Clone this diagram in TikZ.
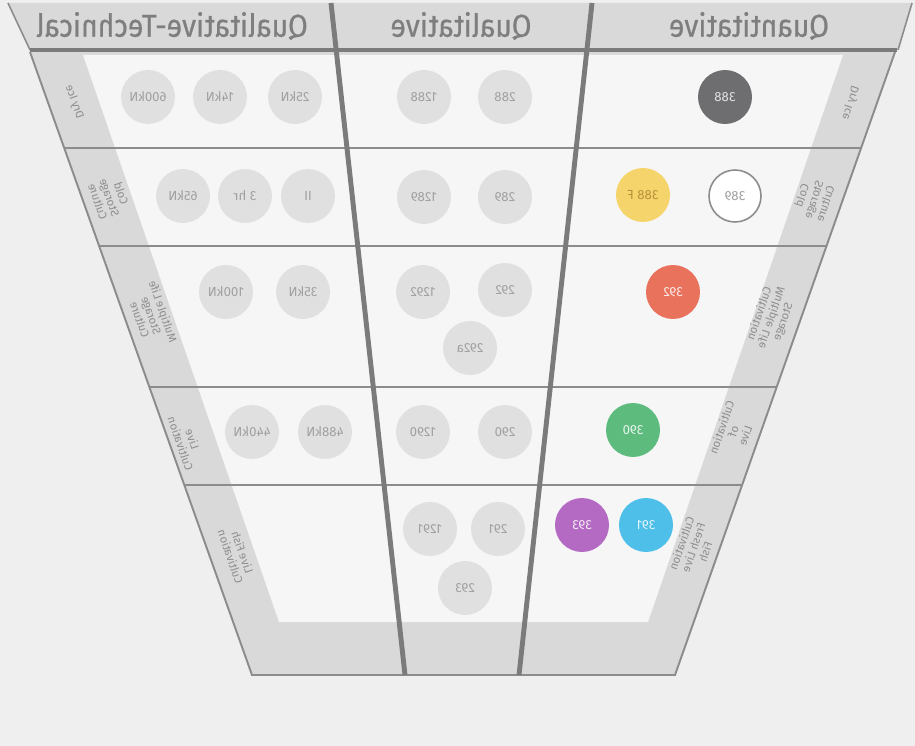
\documentclass[tikz,border=0pt]{standalone}
\usepackage{fontspec}
\setmainfont{Fira Sans}
\newfontfamily\hdfont[FakeBold=0.6]{Fira Sans}
\usepackage{graphicx}
\definecolor{bg}{HTML}{EFEFEF}
\definecolor{hdfill}{HTML}{D9D9D9}
\definecolor{hdtext}{HTML}{7E7E7E}
\definecolor{band}{HTML}{D9D9D9}
\definecolor{inner}{HTML}{F6F6F6}
\definecolor{edge}{HTML}{8C8C8C}
\definecolor{thick}{HTML}{7B7B7B}
\definecolor{cfill}{HTML}{E0E0E0}
\definecolor{ctext}{HTML}{A0A0A0}
\definecolor{bltext}{HTML}{8E8E8E}
\definecolor{cdark}{HTML}{6E6E70}
\definecolor{cyellow}{HTML}{F6D46C}
\definecolor{cyeltext}{HTML}{B8923A}
\definecolor{corange}{HTML}{E8725C}
\definecolor{cgreen}{HTML}{5EBB7E}
\definecolor{cpurple}{HTML}{B46AC3}
\definecolor{cblue}{HTML}{4DBFE9}
\newcommand{\mir}[1]{\reflectbox{#1}}
\newcommand{\hmir}[1]{\scalebox{-0.9}[1]{#1}}
\newcommand{\mlines}[1]{\reflectbox{\begin{tabular}{@{}c@{}}#1\end{tabular}}}
\tikzset{
 gc/.style={circle, minimum size=1.08cm, inner sep=0pt, fill=cfill, text=ctext, font=\fontsize{7.5}{8}\selectfont},
 hd/.style={text=hdtext, font=\hdfont\fontsize{18}{20}\selectfont, inner sep=0pt},
 bl/.style={text=bltext, font=\fontsize{6.5}{7}\selectfont, inner sep=0pt},
 rowline/.style={draw=edge, line width=1.1pt},
 divider/.style={draw=thick, line width=2.8pt},
}
\begin{document}
\begin{tikzpicture}[x=0.02cm, y=-0.02cm]
\useasboundingbox (0,0) rectangle (915,746);
\fill[bg] (0,0) rectangle (915,746);
% header
\fill[hdfill] (8,3) -- (912,3) -- (898,50) -- (30,50) -- cycle;
\draw[edge, line width=0.9pt] (8,3) -- (30,50);
\draw[edge, line width=0.9pt] (912,3) -- (898,50);
% funnel
\fill[band] (30,52) -- (895,52) -- (675,675) -- (252,675) -- cycle;
\fill[inner] (83,55) -- (843,55) -- (648,622) -- (279,622) -- cycle;
\draw[edge, line width=1.1pt] (30,52) -- (252,675) -- (675,675) -- (895,52);
% row lines
\draw[rowline] (64.2,148) -- (861.1,148);
\draw[rowline] (99.1,246) -- (826.5,246);
\draw[rowline] (149.4,387) -- (776.7,387);
\draw[rowline] (184.3,485) -- (742.1,485);
% thick line under header and column dividers
\draw[divider] (30,50) -- (897,50);
\draw[divider] (331,3) -- (405,675);
\draw[divider] (592,3) -- (519,675);
% header texts
\node[hd] (h1) at (172,26) {\hmir{Qualitative-Technical}};
\node[hd] (h2) at (461,26) {\hmir{Qualitative}};
\node[hd] (h3) at (749,26) {\hmir{Quantitative}};
% left band labels
\node[bl, rotate=-70.8] (l1) at (74,102) {\mir{Dry Ice}};
\node[bl, rotate=-70.8] (l2) at (108,198) {\mlines{Cold\\Storage\\Culture}};
\node[bl, rotate=-70.8] (l3) at (150,316) {\mlines{Multiple Life\\Storage\\Culture}};
\node[bl, rotate=-70.8] (l4) at (185,442) {\mlines{Live\\Cultivation}};
\node[bl, rotate=-70.8] (l5) at (235,555) {\mlines{Live Fish\\Cultivation}};
% right band labels
\node[bl, rotate=71.2] (r1) at (851,103) {\mir{Dry Ice}};
\node[bl, rotate=71.2] (r2) at (815,200) {\mlines{Cold\\Storage\\Culture}};
\node[bl, rotate=71.2] (r3) at (772,318) {\mlines{Cultivation\\Multiple Life\\Storage}};
\node[bl, rotate=71.2] (r4) at (735,432) {\mlines{Cultivation\\of\\Live}};
\node[bl, rotate=71.2] (r5) at (695,548) {\mlines{Cultivation\\Fresh Live\\Fish}};
% row 1
\node[gc] (a11) at (148,97) {\mir{600kN}};
\node[gc] (a12) at (220,97) {\mir{14kN}};
\node[gc] (a13) at (295,97) {\mir{25kN}};
\node[gc] (b11) at (424,97) {\mir{1288}};
\node[gc] (b12) at (505,97) {\mir{288}};
\node[gc, fill=cdark, text=white!80!cdark] (c11) at (725,97) {\mir{388}};
% row 2
\node[gc] (a21) at (183,196) {\mir{65kN}};
\node[gc] (a22) at (245,196) {\mir{3 hr}};
\node[gc] (a23) at (308,196) {\mir{II}};
\node[gc] (b21) at (424,197) {\mir{1289}};
\node[gc] (b22) at (505,197) {\mir{289}};
\node[gc, fill=cyellow, text=cyeltext] (c21) at (643,195) {\mir{388 F}};
\node[gc, fill=white, draw=edge, line width=0.9pt, minimum size=1.04cm] (c22) at (735,196) {\mir{389}};
% row 3
\node[gc] (a31) at (226,292) {\mir{100kN}};
\node[gc] (a32) at (303,292) {\mir{35kN}};
\node[gc] (b31) at (423,292) {\mir{1292}};
\node[gc] (b32) at (505,290) {\mir{292}};
\node[gc] (b33) at (470,348) {\mir{292a}};
\node[gc, fill=corange, text=white!85!corange] (c31) at (673,292) {\mir{392}};
% row 4
\node[gc] (a41) at (252,432) {\mir{440kN}};
\node[gc] (a42) at (325,432) {\mir{488kN}};
\node[gc] (b41) at (423,432) {\mir{1290}};
\node[gc] (b42) at (505,432) {\mir{290}};
\node[gc, fill=cgreen, text=white!85!cgreen] (c41) at (633,430) {\mir{390}};
% row 5
\node[gc] (b51) at (430,529) {\mir{1291}};
\node[gc] (b52) at (498,529) {\mir{291}};
\node[gc] (b53) at (465,588) {\mir{293}};
\node[gc, fill=cpurple, text=white!85!cpurple] (c51) at (582,525) {\mir{393}};
\node[gc, fill=cblue, text=white!85!cblue] (c52) at (646,525) {\mir{391}};
\end{tikzpicture}
\end{document}
